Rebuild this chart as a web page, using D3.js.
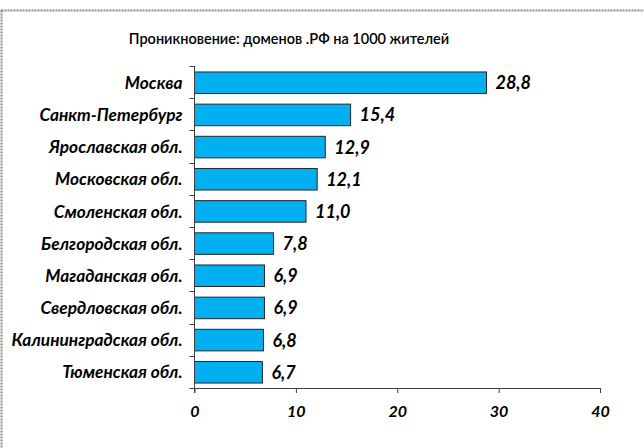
<!DOCTYPE html>
<html>
<head>
<meta charset="utf-8">
<script src="https://cdn.jsdelivr.net/npm/d3@7"></script>
<style>
  body { margin: 0; background: #fff; }
  text { font-family: Lato, "Open Sans", sans-serif; }
</style>
</head>
<body>
<svg id="chart" width="644" height="448"></svg>
<script>
// Regions and values (domains per 1000 residents)
var regions = ["Москва", "Санкт-Петербург", "Ярославская обл.", "Московская обл.",
               "Смоленская обл.", "Белгородская обл.", "Магаданская обл.",
               "Свердловская обл.", "Калининградская обл.", "Тюменская обл."];
var values = [28.8, 15.4, 12.9, 12.1, 11.0, 7.8, 6.9, 6.9, 6.8, 6.7];
var xTicks = [0, 10, 20, 30, 40];
var title = "Проникновение: доменов .РФ на 1000 жителей";

var svg = d3.select("#chart");

// dashed frame of the chart area
svg.append("rect")
  .attr("x", 1.5).attr("y", 10.5)
  .attr("width", 660).attr("height", 460)
  .attr("fill", "none")
  .attr("stroke", "#8c8c8c")
  .attr("stroke-width", 2)
  .attr("stroke-dasharray", "2,1");

var x = d3.scaleLinear().domain([0, 40]).range([194.5, 600]);
var y = d3.scaleBand().domain(regions).range([66, 388]).paddingInner(0.33).paddingOuter(0.17);

// title
svg.append("text")
  .attr("x", 289).attr("y", 44)
  .attr("text-anchor", "middle")
  .style("font-size", "14.5px")
  .style("font-weight", "600")
  .style("fill", "#000")
  .text(title);

// bars
svg.append("g").selectAll("rect")
  .data(values)
  .enter().append("rect")
  .attr("x", x(0))
  .attr("y", function(d, i) { return y(regions[i]) + 0.5; })
  .attr("width", function(d) { return x(d) - x(0); })
  .attr("height", y.bandwidth())
  .attr("fill", "#00b0f0")
  .attr("stroke", "#262626")
  .attr("stroke-width", 1);

// value labels
svg.append("g").selectAll("text")
  .data(values)
  .enter().append("text")
  .attr("x", function(d) { return x(d) + 9; })
  .attr("y", function(d, i) { return y(regions[i]) + y.bandwidth() / 2 + 0.5; })
  .attr("dy", "0.36em")
  .style("font-size", "18px")
  .style("font-weight", "bold")
  .style("font-style", "italic")
  .style("fill", "#000")
  .text(function(d) { return d3.format(".1f")(d).replace(".", ","); });

// x axis
var xAxis = svg.append("g")
  .attr("transform", "translate(0,388)")
  .call(d3.axisBottom(x).tickValues(xTicks).tickSize(5).tickSizeOuter(0).tickPadding(13));
xAxis.select(".domain").attr("stroke", "#404040");
xAxis.selectAll(".tick line").attr("stroke", "#404040");
xAxis.selectAll(".tick text")
  .style("font-family", "Lato, sans-serif")
  .style("font-size", "16px")
  .style("font-weight", "bold")
  .style("font-style", "italic")
  .style("fill", "#000");

// y axis: line plus ticks at category boundaries
var yAxis = svg.append("g");
yAxis.append("line")
  .attr("x1", x(0)).attr("x2", x(0))
  .attr("y1", 66).attr("y2", 393)
  .attr("stroke", "#404040");
var bounds = regions.map(function(r) { return y(r) - y.step() * y.paddingInner() / 2; });
bounds.push(388);
yAxis.selectAll(".ytick")
  .data(bounds)
  .enter().append("line")
  .attr("x1", x(0) - 5).attr("x2", x(0))
  .attr("y1", function(d) { return Math.round(d) + 0.5; })
  .attr("y2", function(d) { return Math.round(d) + 0.5; })
  .attr("stroke", "#404040");

// category labels
svg.append("g").selectAll("text")
  .data(regions)
  .enter().append("text")
  .attr("x", x(0) - 12)
  .attr("y", function(d) { return y(d) + y.bandwidth() / 2 + 0.5; })
  .attr("dy", "0.36em")
  .attr("text-anchor", "end")
  .style("font-size", "17.3px")
  .style("font-weight", "bold")
  .style("font-style", "italic")
  .style("fill", "#000")
  .text(function(d) { return d; });
</script>
</body>
</html>
